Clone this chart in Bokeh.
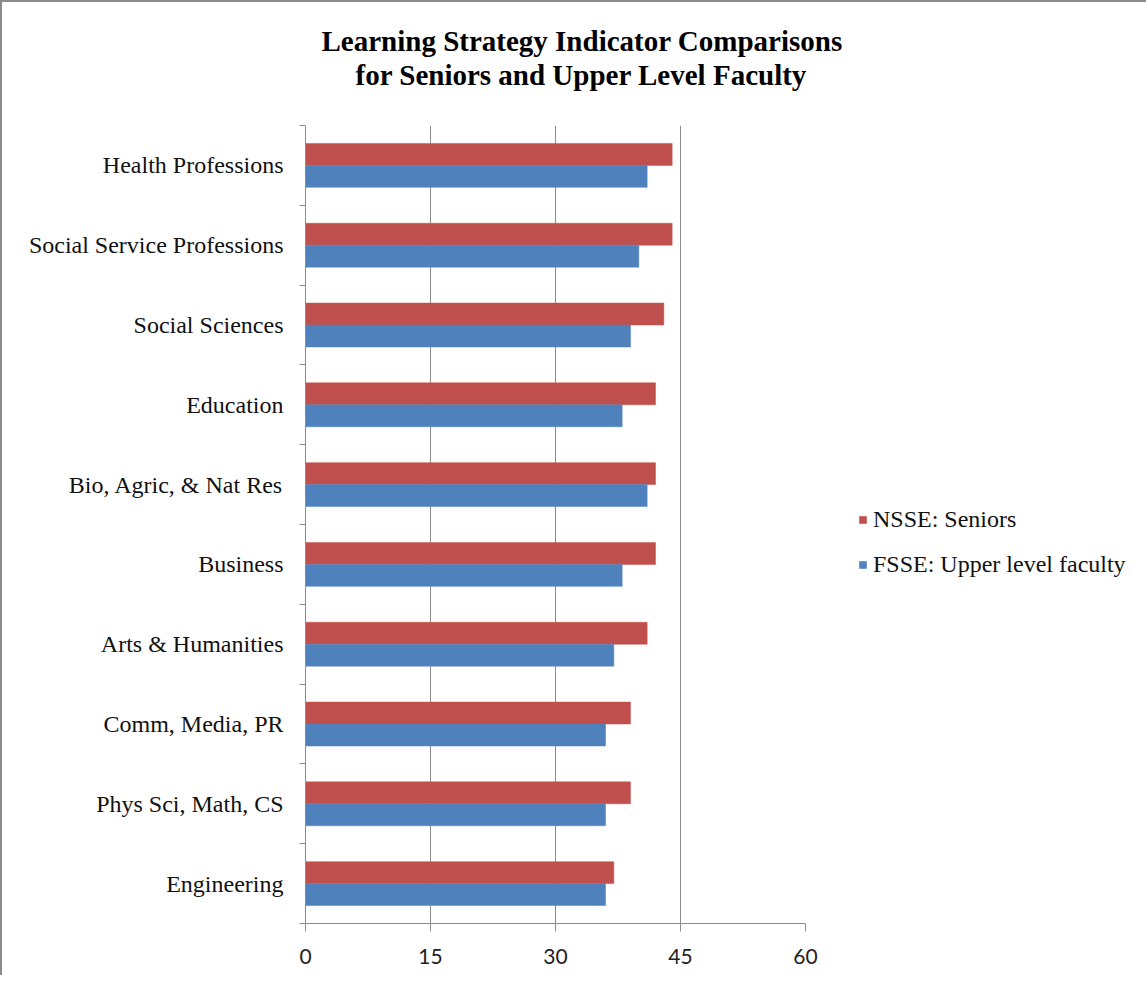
from bokeh.plotting import figure
from bokeh.models import FixedTicker, Legend, LegendItem, ColumnDataSource, Range1d, Title
from bokeh.embed import file_html
from bokeh.resources import INLINE

title_lines = ["Learning Strategy Indicator Comparisons",
               "for Seniors and Upper Level Faculty"]
categories = ["Health Professions", "Social Service Professions", "Social Sciences",
              "Education", "Bio, Agric, & Nat Res", "Business", "Arts & Humanities",
              "Comm, Media, PR", "Phys Sci, Math, CS", "Engineering"]
nsse_seniors = [44, 44, 43, 42, 42, 42, 41, 39, 39, 37]
fsse_faculty = [41, 40, 39, 38, 41, 38, 37, 36, 36, 36]
x_ticks = [0, 15, 30, 45, 60]

n = len(categories)
centers = [n - i - 0.5 for i in range(n)]
bh = 0.275

src_r = ColumnDataSource(dict(y=[c + bh / 2 for c in centers], v=nsse_seniors))
src_b = ColumnDataSource(dict(y=[c - bh / 2 for c in centers], v=fsse_faculty))

p = figure(frame_width=500, frame_height=798, output_backend="svg", toolbar_location=None,
           title=None,
           x_range=Range1d(0, 60), y_range=Range1d(0, n),
           min_border_left=303, min_border_right=335, min_border_top=123,
           min_border_bottom=52)
p.styles = {"border-left": "2px solid #8c8c8c", "border-top": "2px solid #8c8c8c"}

# title: two centred lines; second line is nearest the frame
title_offsets = [16, 50]
title_paddings = [(0, 0, 0, 0), (0, 0, 0, 35)]
for idx in [1, 0]:
    p.add_layout(Title(text=title_lines[idx], align="left", offset=title_offsets[idx],
                       standoff=0, padding=title_paddings[idx],
                       text_font="Liberation Serif", text_font_size="29px",
                       text_font_style="bold", text_color="#000000",
                       text_line_height=1.0), "above")

red = "#C0504D"
blue = "#4F81BD"
rr = p.hbar(y="y", right="v", left=0, height=bh, source=src_r, fill_color=red,
            line_color=red, line_width=0.5)
rb = p.hbar(y="y", right="v", left=0, height=bh, source=src_b, fill_color=blue,
            line_color=blue, line_width=0.5)

# x axis
p.xaxis.ticker = FixedTicker(ticks=x_ticks)
p.xaxis.axis_line_color = "#8c8c8c"
p.xaxis.major_tick_line_color = "#8c8c8c"
p.xaxis.major_tick_out = 8
p.xaxis.major_tick_in = 0
p.xaxis.minor_tick_line_color = None
p.xaxis.major_label_text_font = "Lato"
p.xaxis.major_label_text_font_size = "21px"
p.xaxis.major_label_text_color = "#222222"
p.xaxis.major_label_standoff = 17

# y axis
p.yaxis.ticker = FixedTicker(ticks=centers, minor_ticks=list(range(n + 1)))
p.yaxis.major_label_overrides = {c: categories[i] for i, c in enumerate(centers)}
p.yaxis.major_tick_line_color = None
p.yaxis.minor_tick_line_color = "#8c8c8c"
p.yaxis.minor_tick_out = 6
p.yaxis.minor_tick_in = 0
p.yaxis.axis_line_color = "#8c8c8c"
p.yaxis.major_label_text_font = "Liberation Serif"
p.yaxis.major_label_text_font_size = "24px"
p.yaxis.major_label_text_color = "#111111"
p.yaxis.major_label_standoff = 16

p.xgrid.grid_line_color = "#8c8c8c"
p.xgrid.grid_line_width = 1
p.ygrid.grid_line_color = None
p.outline_line_color = None

legend = Legend(items=[LegendItem(label="NSSE: Seniors", renderers=[rr]),
                       LegendItem(label="FSSE: Upper level faculty", renderers=[rb])])
legend.label_text_font = "Liberation Serif"
legend.label_text_font_size = "24px"
legend.label_text_color = "#111111"
legend.glyph_width = 9
legend.glyph_height = 9
legend.label_standoff = 6
legend.label_height = 24
legend.spacing = 18
legend.border_line_color = None
legend.background_fill_alpha = 0
legend.margin = 0
legend.padding = 0
legend.location = (53, 345)
p.add_layout(legend, "right")

open("out.html", "w").write(file_html(p, INLINE))
